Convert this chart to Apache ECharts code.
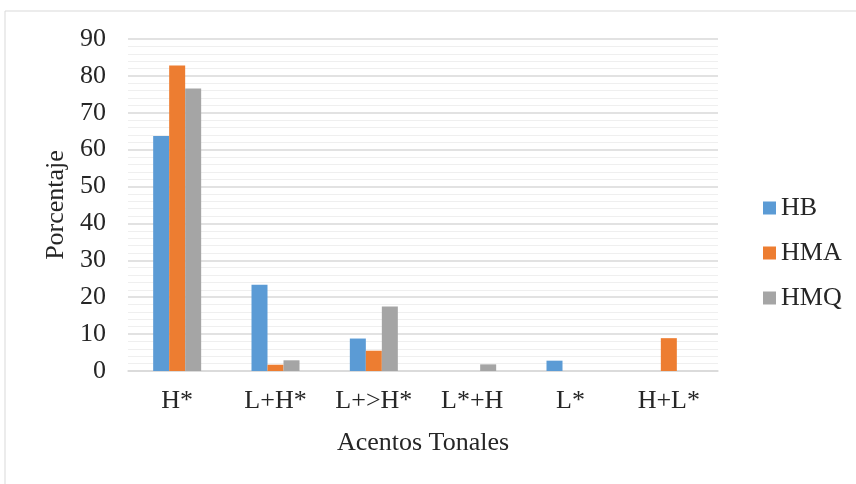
<!DOCTYPE html>
<html>
<head>
<meta charset="utf-8">
<script src="https://cdn.jsdelivr.net/npm/echarts@6/dist/echarts.min.js"></script>
<style>
  html, body { margin: 0; padding: 0; background: #fff; }
  #chart { width: 856px; height: 484px; }
</style>
</head>
<body>
<div id="chart"></div>
<script>
// categorias y valores
const categorias = ['H*', 'L+H*', 'L+>H*', 'L*+H', 'L*', 'H+L*'];
const hb  = [63.7, 23.4, 8.8, 0, 2.8, 0];
const hma = [82.8, 1.7, 5.5, 0, 0, 8.9];
const hmq = [76.6, 2.9, 17.5, 1.8, 0, 0];
const yTicks = { min: 0, max: 90, interval: 10 };

const fuente = 'Liberation Serif, Times New Roman, serif';
const colorTexto = '#262626';
const tam = 26;

let chart = echarts.init(document.getElementById('chart'));

function serie(name, data, color) {
    return {
        name: name,
        type: 'bar',
        data: data,
        barWidth: 16,
        barGap: '0%',
        itemStyle: { color: color }
    };
}

let option = {
    animation: false,
    textStyle: { fontFamily: fuente },
    graphic: [{
        type: 'rect',
        shape: { x: 5, y: 11, width: 900, height: 500 },
        style: { fill: 'none', stroke: '#d9d9d9', lineWidth: 1 },
        silent: true
    }],
    grid: { left: 128, right: 138, top: 39, bottom: 113 },
    legend: {
        orient: 'vertical',
        left: 758,
        top: 190,
        itemWidth: 13,
        itemHeight: 13,
        itemGap: 19,
        icon: 'rect',
        textStyle: { fontFamily: fuente, fontSize: tam, color: colorTexto },
        data: ['HB', 'HMA', 'HMQ']
    },
    xAxis: {
        type: 'category',
        data: categorias,
        name: 'Acentos Tonales',
        nameLocation: 'middle',
        nameGap: 59,
        nameTextStyle: { fontFamily: fuente, fontSize: tam, color: colorTexto },
        axisLine: { lineStyle: { color: '#d9d9d9', width: 1.5 } },
        axisTick: { show: false },
        axisLabel: { interval: 0, hideOverlap: false, fontFamily: fuente, fontSize: tam, color: colorTexto, margin: 17 }
    },
    yAxis: {
        type: 'value',
        min: yTicks.min,
        max: yTicks.max,
        interval: yTicks.interval,
        name: 'Porcentaje',
        nameLocation: 'middle',
        nameGap: 57,
        nameTextStyle: { fontFamily: fuente, fontSize: tam, color: colorTexto },
        axisLine: { show: false },
        axisTick: { show: false },
        axisLabel: { fontFamily: fuente, fontSize: tam, color: colorTexto, margin: 22 },
        splitLine: { lineStyle: { color: '#d9d9d9', width: 1.5 } },
        minorTick: { show: false, splitNumber: 5 },
        minorSplitLine: { show: true, lineStyle: { color: '#efefef', width: 1 } }
    },
    series: [
        serie('HB', hb, '#5b9bd5'),
        serie('HMA', hma, '#ed7d31'),
        serie('HMQ', hmq, '#a5a5a5')
    ]
};
chart.setOption(option);
</script>
</body>
</html>
